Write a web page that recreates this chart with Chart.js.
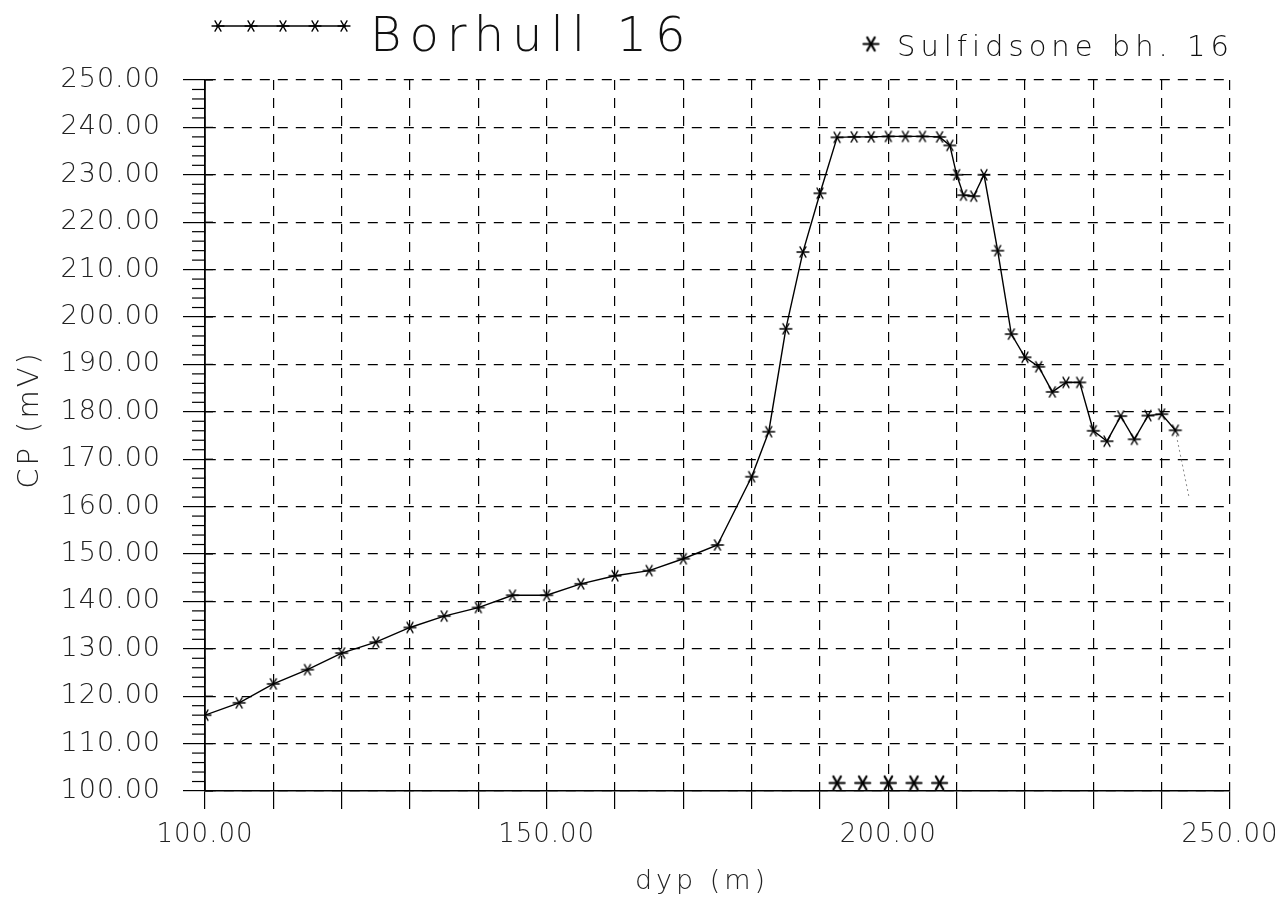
<!DOCTYPE html>
<html>
<head>
<meta charset="utf-8">
<script src="https://cdn.jsdelivr.net/npm/chart.js@4.4.1/dist/chart.umd.min.js"></script>
<style>
html,body{margin:0;padding:0;background:#fff;}
#wrap{width:1275px;height:905px;position:relative;}
</style>
</head>
<body>
<div id="wrap"><canvas id="c" width="1275" height="905"></canvas></div>
<script>
// ---- data (depth in m, CP in mV) ----
const depth = [100,105,110,115,120,125,130,135,140,145,150,155,160,165,170,175,180,182.5,185,187.5,190,192.5,195,197.5,200,202.5,205,207.5,209,210,211,212.5,214,216,218,220,222,224,226,228,230,232,234,236,238,240,242];
const cp = [116.0,118.6,122.6,125.6,129.1,131.4,134.5,136.9,138.7,141.3,141.3,143.7,145.4,146.5,149.0,151.9,166.3,175.8,197.5,213.7,226.1,237.9,238.0,238.0,238.1,238.1,238.1,238.0,236.2,230.0,225.7,225.5,230.0,214.0,196.4,191.5,189.5,184.2,186.2,186.2,176.0,173.8,179.1,174.2,179.2,179.5,176.1];
const tailDepth = [242, 244];
const tailCp = [176.1, 162.0];
const sulfideDepth = [192.5, 196.25, 200, 203.75, 207.5];
const sulfideCp = [101.7, 101.7, 101.7, 101.7, 101.7];
const xMajorLabels = [100, 150, 200, 250];
const seriesName = 'Borhull 16';
const sulfideName = 'Sulfidsone bh. 16';
const xTitle = 'dyp (m)';
const yTitle = 'CP (mV)';

const FONT = '"DejaVu Sans", "Liberation Sans", sans-serif';

function asterisk(size, lw) {
  const pad = Math.ceil(lw) + 1;
  const c = document.createElement('canvas');
  c.width = c.height = size + 2 * pad;
  const g = c.getContext('2d');
  g.strokeStyle = '#000';
  g.lineWidth = lw;
  g.lineCap = 'round';
  const r = size / 2, cx = c.width / 2, cy = c.height / 2;
  for (const a of [0, Math.PI / 3, 2 * Math.PI / 3]) {
    g.beginPath();
    g.moveTo(cx - r * Math.cos(a), cy - r * Math.sin(a));
    g.lineTo(cx + r * Math.cos(a), cy + r * Math.sin(a));
    g.stroke();
  }
  return c;
}
const smallStar = asterisk(12, 1.3);
const bigStar = asterisk(15, 2.2);

const mainPts = depth.map((d, i) => ({x: d, y: cp[i]}));
const tailPts = tailDepth.map((d, i) => ({x: d, y: tailCp[i]}));
const sulfPts = sulfideDepth.map((d, i) => ({x: d, y: sulfideCp[i]}));

const decor = {
  id: 'decor',
  beforeDraw(chart) {
    chart.ctx.letterSpacing = '1px';
  },
  afterDraw(chart) {
    const ctx = chart.ctx;
    const ys = chart.scales.y;
    const ca = chart.chartArea;
    const left = ca.left;
    ctx.save();
    ctx.strokeStyle = '#000';
    ctx.lineWidth = 1.2;
    // minor ticks every 2 mV
    for (let v = ys.min; v <= ys.max; v += 2) {
      const p = ys.getPixelForValue(v);
      ctx.beginPath();
      if (v % 10 === 0) { ctx.moveTo(left, p); ctx.lineTo(left + 8, p); }
      else { ctx.moveTo(left - 13, p); ctx.lineTo(left, p); }
      ctx.stroke();
    }
    // axis titles
    ctx.fillStyle = '#222';
    ctx.textAlign = 'center';
    ctx.textBaseline = 'middle';
    ctx.font = '200 27px ' + FONT;
    ctx.letterSpacing = '4px';
    ctx.fillText(xTitle, 702, 882);
    ctx.save();
    ctx.translate(30, (ca.top + ca.bottom) / 2 - 16);
    ctx.rotate(-Math.PI / 2);
    ctx.font = '200 29px ' + FONT;
    ctx.letterSpacing = '3px';
    ctx.fillText(yTitle, 0, 0);
    ctx.restore();
    // legend: series line sample
    ctx.lineWidth = 1.4;
    ctx.beginPath(); ctx.moveTo(216, 26); ctx.lineTo(346, 26); ctx.stroke();
    for (const x of [218, 251, 283, 315, 344]) {
      ctx.drawImage(smallStar, x - smallStar.width / 2, 26 - smallStar.height / 2);
    }
    ctx.fillStyle = '#111';
    ctx.textBaseline = 'alphabetic';
    ctx.textAlign = 'left';
    ctx.font = '200 48px ' + FONT;
    ctx.letterSpacing = '8px';
    ctx.fillText(seriesName, 370, 51);
    ctx.drawImage(bigStar, 871 - bigStar.width / 2, 44 - bigStar.height / 2);
    ctx.font = '200 29px ' + FONT;
    ctx.letterSpacing = '5px';
    ctx.fillText(sulfideName, 897, 56);
    ctx.restore();
  }
};

new Chart(document.getElementById('c'), {
  type: 'scatter',
  data: {
    datasets: [
      {
        label: seriesName,
        data: mainPts,
        showLine: true,
        borderColor: '#000',
        borderWidth: 1.4,
        pointStyle: smallStar,
        pointRadius: 5,
        pointHoverRadius: 5,
        tension: 0
      },
      {
        label: 'tail',
        data: tailPts,
        showLine: true,
        borderColor: '#888',
        borderWidth: 1,
        borderDash: [2, 3],
        pointRadius: 0,
        pointHoverRadius: 0
      },
      {
        label: sulfideName,
        data: sulfPts,
        showLine: false,
        pointStyle: bigStar,
        pointRadius: 7,
        pointHoverRadius: 7
      }
    ]
  },
  options: {
    responsive: false,
    animation: false,
    devicePixelRatio: 1,
    layout: {padding: {top: 80, right: 45, left: 0, bottom: 0}},
    plugins: {legend: {display: false}, tooltip: {enabled: false}, title: {display: false}},
    scales: {
      x: {
        type: 'linear',
        position: 'bottom',
        min: 100, max: 250,
        afterFit(s) { s.height = 114; s.paddingLeft = 0; s.paddingRight = 0; },
        ticks: {
          stepSize: 10,
          autoSkip: false,
          maxRotation: 0,
          padding: 11,
          color: '#222',
          font: {family: FONT, size: 26, weight: '200'},
          callback: v => xMajorLabels.includes(v) ? v.toFixed(2) : ''
        },
        grid: {color: '#000', lineWidth: 1.2, tickLength: 18, tickColor: '#000', tickWidth: 1.2},
        border: {display: true, color: '#000', width: 1.6, dash: [10, 8]},
        title: {display: false}
      },
      y: {
        type: 'linear',
        min: 100, max: 250,
        afterFit(s) { s.width = 205; s.paddingTop = 0; s.paddingBottom = 0; },
        ticks: {
          stepSize: 10,
          padding: 22,
          color: '#222',
          font: {family: FONT, size: 27, weight: '200'},
          callback: v => v.toFixed(2)
        },
        grid: {color: '#000', lineWidth: 1.2, tickLength: 22, tickColor: '#000', tickWidth: 1.2},
        border: {display: true, color: '#000', width: 1.8, dash: [10, 8]},
        title: {display: false}
      }
    }
  },
  plugins: [decor]
});
</script>
</body>
</html>
